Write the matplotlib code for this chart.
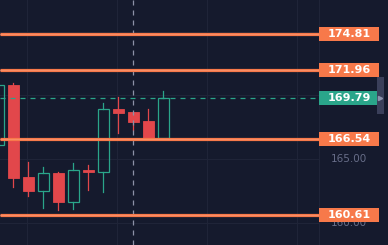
import matplotlib
matplotlib.use("Agg")
import matplotlib.pyplot as plt
from matplotlib.patches import Rectangle

# candle data (open, high, low, close)
opens = [166.10, 170.81, 163.62, 162.52, 163.91, 161.66, 164.14, 164.01, 168.90, 168.69, 167.99, 166.68]
highs = [171.20, 170.99, 164.79, 164.36, 163.99, 164.69, 164.54, 169.42, 169.89, 168.69, 168.90, 170.36]
lows = [165.80, 162.83, 162.13, 161.14, 161.01, 161.08, 162.57, 162.44, 167.07, 167.28, 166.63, 166.68]
closes = [170.81, 163.54, 162.50, 163.88, 161.66, 164.14, 164.01, 168.90, 168.64, 167.93, 166.63, 169.79]

# horizontal levels
levels = [174.81, 171.96, 166.54, 160.61]
last_price = 169.79
axis_ticks = [160.00, 165.00]

bg = "#151a2d"
red = "#e2474b"
green = "#2aa58a"
orange = "#f7794a"

fig = plt.figure(figsize=(3.88, 2.45), dpi=100, facecolor=bg)
ax = fig.add_axes([0, 0, 1, 1])
ax.set_facecolor(bg)
ax.set_xlim(0.1, 25.97)
ax.set_ylim(158.26, 177.48)
ax.axis("off")

# faint grid
for gx in [1.9, 7.9, 13.9, 19.9, 21.35]:
    ax.axvline(gx, color="#1f2438", lw=0.8, zorder=0)
for gy in [160.0, 165.0, 170.0, 175.0]:
    ax.plot([0.1, 21.35], [gy, gy], color="#1f2438", lw=0.8, zorder=0)

# candles
w = 0.72
for i, (o, h, l, c) in enumerate(zip(opens, highs, lows, closes)):
    up = c >= o
    col = green if up else red
    top, bot = max(o, c), min(o, c)
    ax.plot([i, i], [top, h], color=col, lw=0.9, zorder=2)
    ax.plot([i, i], [l, bot], color=col, lw=0.9, zorder=2)
    if up:
        ax.add_patch(Rectangle((i - w / 2, bot), w, top - bot, facecolor="none",
                               edgecolor=col, lw=0.9, zorder=3))
    else:
        ax.add_patch(Rectangle((i - w / 2, bot), w, max(top - bot, 0.12),
                               facecolor=col, edgecolor=col, lw=0.6, zorder=3))

# crosshair
ax.axvline(8.95, color="#8d92a8", lw=0.9, ls=(0, (4, 4)), zorder=4)

# axis text under labels
for t in axis_ticks:
    ax.text(23.37, t, f"{t:.2f}", color="#676d88", fontsize=7.5,
            ha="center", va="center", zorder=5)

# levels
x_lab = 21.37
for lv in levels:
    ax.plot([0.1, x_lab], [lv, lv], color=orange, lw=2.3, zorder=6, solid_capstyle="butt")
    ax.plot([0.1, x_lab], [lv, lv], color="#fa9672", lw=0.5, zorder=6)
    ax.add_patch(Rectangle((x_lab, lv - 0.55), 4.0, 1.1, facecolor=orange,
                           edgecolor="none", zorder=6.5))
    ax.text(23.37, lv, f"{lv:.2f}", color="white", fontsize=8, fontweight="bold",
            ha="center", va="center", zorder=7)

# last price line
ax.plot([0.1, x_lab], [last_price, last_price], color=green, lw=0.9,
        ls=(0, (4, 4)), zorder=6)
ax.add_patch(Rectangle((x_lab, last_price - 0.55), 4.0, 1.1, facecolor=green,
                       edgecolor="none", zorder=6.5))
ax.text(23.37, last_price, f"{last_price:.2f}", color="white", fontsize=8,
        fontweight="bold", ha="center", va="center", zorder=7)

# scroll handle
ax.add_patch(Rectangle((25.23, 168.56), 0.47, 2.9, facecolor="#3a3f5a",
                       edgecolor="none", zorder=7))
ax.plot([25.42], [last_price], marker=">", color="#8c92ad", ms=3, zorder=8)

fig.savefig("out.png", dpi=100, facecolor=bg)
